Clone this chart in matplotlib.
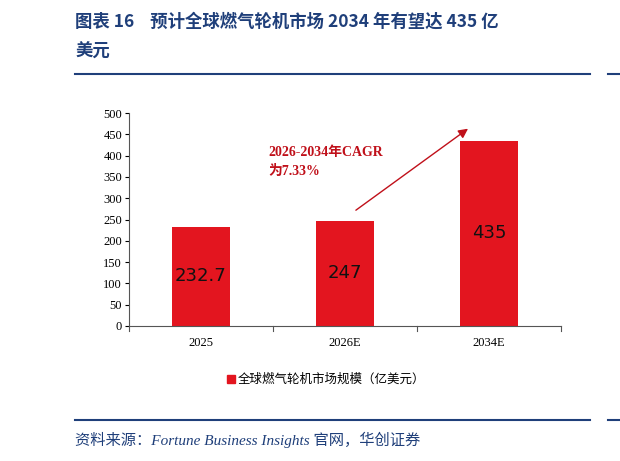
import matplotlib
matplotlib.use("Agg")
import matplotlib.pyplot as plt
from matplotlib.lines import Line2D

categories = ["2025", "2026E", "2034E"]
values = [232.7, 247, 435]
labels = ["232.7", "247", "435"]
yticks = list(range(0, 501, 50))

W, H = 620, 461
fig = plt.figure(figsize=(W/100, H/100), dpi=100)
cjk = ["Noto Sans CJK SC", "DejaVu Sans"]
serif = ["Liberation Serif", "Noto Sans CJK SC"]
blue = "#1f3f7a"
red = "#e3151f"

ax = fig.add_axes([129/W, 1-326/H, 432/W, 213/H])
x = range(len(categories))
ax.bar(x, values, width=0.40, color=red, zorder=2)
ax.set_xlim(-0.5, 2.5)
ax.set_ylim(0, 500)
ax.set_yticks(yticks)
ax.set_xticks(list(x))
ax.set_xticklabels(categories, fontfamily=serif, fontsize=9)
for t in ax.get_yticklabels():
    t.set_fontfamily(serif); t.set_fontsize(9)
for s in ["top", "right"]:
    ax.spines[s].set_visible(False)
ax.spines["left"].set_color("#555555")
ax.spines["bottom"].set_color("#555555")
ax.tick_params(axis="x", length=0, pad=8)
ax.tick_params(axis="y", length=3, pad=2)
for i in range(len(categories)+1):
    ax.plot([i-0.5, i-0.5], [0, -12], color="#555555", lw=0.8, clip_on=False)
for i, v in enumerate(values):
    ax.text(i, v/2, labels[i], ha="center", va="center",
            fontsize=13, color="#111111", family=["DejaVu Sans"])
ax.annotate("", xy=(1.87, 467), xytext=(1.06, 268),
            arrowprops=dict(arrowstyle="-|>", color="#c0101a", lw=1.0, mutation_scale=14))
ax.text(0.47, 385, "2026-2034年CAGR\n为7.33%", color="#c0101a", fontsize=10,
        fontweight="bold", family=serif, va="center", ha="left", linespacing=1.5)

fig.text(75/W, 1-22/H, "图表 16    预计全球燃气轮机市场 2034 年有望达 435 亿", color=blue,
         fontsize=12.5, fontweight="bold", family=cjk, va="center")
fig.text(75/W, 1-52/H, "美元", color=blue, fontsize=12.5, fontweight="bold", family=cjk, va="center")
fig.add_artist(Line2D([75/W, 590/W], [1-74/H, 1-74/H], color=blue, lw=1.5))
fig.add_artist(Line2D([608/W, 1], [1-74/H, 1-74/H], color=blue, lw=1.5))
fig.add_artist(Line2D([75/W, 590/W], [1-420/H, 1-420/H], color=blue, lw=1.5))
fig.add_artist(Line2D([608/W, 1], [1-420/H, 1-420/H], color=blue, lw=1.5))

fig.patches.append(plt.Rectangle((227/W, 1-383/H), 8/W, 8/H, color=red, transform=fig.transFigure))
fig.text(238/W, 1-379/H, "全球燃气轮机市场规模（亿美元）", fontsize=9, family=cjk, va="center")
fig.text(75/W, 1-440/H, "资料来源：Fortune Business Insights 官网，华创证券", fontsize=11,
         style="italic", family=["Liberation Serif", "Noto Sans CJK SC"], color=blue, va="center")
fig.savefig("out.png", dpi=100)
